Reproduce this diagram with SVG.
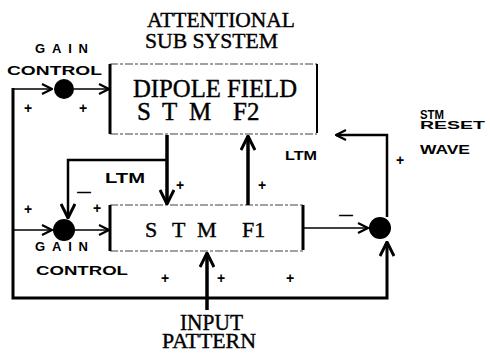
<svg xmlns="http://www.w3.org/2000/svg" width="490" height="353" viewBox="0 0 490 353">
<style>
.big{font-family:"Liberation Serif","Times New Roman",serif;fill:#000;stroke:#000;stroke-width:0.4}
.sm{font-family:"Liberation Sans",Arial,sans-serif;font-weight:bold;fill:#000}
.pl{font-family:"Liberation Sans",Arial,sans-serif;font-weight:bold;font-size:14px;text-anchor:middle;fill:#000}
.dash{stroke:#444;stroke-width:1.2;stroke-dasharray:8 2 3 2;fill:none}
.edge{stroke:#000;fill:none}
.c{fill:none;stroke:#000;stroke-linejoin:miter}
.node{fill:#000}
</style>
<defs>
<marker id="a" viewBox="0 0 12 12" refX="11" refY="6" markerWidth="12" markerHeight="12" markerUnits="userSpaceOnUse" orient="auto">
<path d="M1,1 L11,6 L1,11" fill="none" stroke="#000" stroke-width="2.2"/>
</marker>
<marker id="b" viewBox="0 0 16 16" refX="15" refY="8" markerWidth="16" markerHeight="16" markerUnits="userSpaceOnUse" orient="auto">
<path d="M1,1 L15,8 L1,15" fill="none" stroke="#000" stroke-width="3"/>
</marker>
</defs>
<rect width="490" height="353" fill="#fff"/>

<g id="title">
<text class="big" x="147" y="27" font-size="22" textLength="148" lengthAdjust="spacingAndGlyphs">ATTENTIONAL</text>
<text class="big" x="145" y="48" font-size="22" textLength="133" lengthAdjust="spacingAndGlyphs">SUB SYSTEM</text>
</g>

<g id="f2">
<line class="dash" x1="110" y1="64" x2="317" y2="64"/>
<line class="dash" x1="110" y1="134" x2="317" y2="134"/>
<line class="edge" x1="110" y1="64" x2="110" y2="134" stroke-width="3"/>
<line class="edge" x1="317" y1="64" x2="317" y2="133" stroke-width="2"/>
<text class="big" x="133" y="97" font-size="25" textLength="164" lengthAdjust="spacingAndGlyphs">DIPOLE FIELD</text>
<text class="big" y="120" font-size="25"><tspan x="137">S</tspan><tspan x="162">T</tspan><tspan x="189">M</tspan><tspan x="233">F2</tspan></text>
</g>

<g id="f1">
<line class="dash" x1="110" y1="205" x2="303" y2="205"/>
<line class="dash" x1="110" y1="251" x2="303" y2="251"/>
<line class="edge" x1="110" y1="205" x2="110" y2="251" stroke-width="3"/>
<line class="edge" x1="303" y1="205" x2="303" y2="250" stroke-width="3"/>
<text class="big" y="237" font-size="22"><tspan x="145">S</tspan><tspan x="172">T</tspan><tspan x="197">M</tspan><tspan x="242">F1</tspan></text>
</g>

<g id="gain-top">
<circle class="node" cx="64" cy="89" r="10"/>
<text class="sm" x="35" y="53" font-size="13" textLength="53" lengthAdjust="spacing">GAIN</text>
<text class="sm" x="7" y="75" font-size="13" textLength="95" lengthAdjust="spacingAndGlyphs">CONTROL</text>
</g>

<g id="gain-bottom">
<circle class="node" cx="64" cy="230" r="11"/>
<text class="sm" x="35" y="251" font-size="13" textLength="53" lengthAdjust="spacing">GAIN</text>
<text class="sm" x="36" y="275" font-size="13" textLength="92" lengthAdjust="spacingAndGlyphs">CONTROL</text>
</g>

<g id="reset">
<circle class="node" cx="380" cy="228" r="11"/>
<text class="sm" x="420" y="119" font-size="13" textLength="24" lengthAdjust="spacingAndGlyphs">STM</text>
<text class="sm" x="420" y="129" font-size="11" textLength="65" lengthAdjust="spacingAndGlyphs">RESET</text>
<text class="sm" x="420" y="154" font-size="13" textLength="50" lengthAdjust="spacingAndGlyphs">WAVE</text>
</g>

<g id="input">
<text class="big" x="180" y="330" font-size="23" textLength="63" lengthAdjust="spacingAndGlyphs">INPUT</text>
<text class="big" x="162" y="348" font-size="22" textLength="94" lengthAdjust="spacingAndGlyphs">PATTERN</text>
</g>

<g id="connectors">
<line class="c" x1="13" y1="89" x2="52" y2="89" stroke-width="1.5" marker-end="url(#a)"/>
<polyline class="c" points="13,88 13,298 387,298 387,242" stroke-width="3" marker-end="url(#b)"/>
<line class="c" x1="13" y1="230" x2="52" y2="230" stroke-width="1.5" marker-end="url(#a)"/>
<line class="c" x1="74" y1="89" x2="109" y2="89" stroke-width="1.5" marker-end="url(#a)"/>
<line class="c" x1="75" y1="230" x2="109" y2="230" stroke-width="1.5" marker-end="url(#a)"/>
<line class="c" x1="167" y1="135" x2="167" y2="204" stroke-width="3.5" marker-end="url(#b)"/>
<polyline class="c" points="167,160 68,160 68,218" stroke-width="2.5" marker-end="url(#b)"/>
<line class="c" x1="248" y1="205" x2="248" y2="136" stroke-width="3.5" marker-end="url(#b)"/>
<line class="c" x1="304" y1="228" x2="368" y2="228" stroke-width="1.5" marker-end="url(#a)"/>
<polyline class="c" points="387,217 387,135 336,135" stroke-width="2.5" marker-end="url(#a)"/>
<line class="c" x1="207" y1="310" x2="207" y2="253" stroke-width="3.5" marker-end="url(#b)"/>
</g>

<g id="signs">
<text class="pl" x="28" y="113">+</text>
<text class="pl" x="83" y="113">+</text>
<text class="pl" x="28" y="214">+</text>
<text class="pl" x="97" y="213">+</text>
<text class="pl" x="180" y="190">+</text>
<text class="pl" x="262" y="190">+</text>
<text class="pl" x="400" y="165">+</text>
<text class="pl" x="165" y="283">+</text>
<text class="pl" x="221" y="283">+</text>
<text class="pl" x="290" y="283">+</text>
<text class="pl" x="84" y="197" font-size="13">—</text>
<text class="pl" x="346" y="220" font-size="12">—</text>
</g>

<g id="ltm">
<text class="sm" x="105" y="183" font-size="14" textLength="40" lengthAdjust="spacingAndGlyphs">LTM</text>
<text class="sm" x="285" y="160" font-size="13" textLength="32" lengthAdjust="spacingAndGlyphs">LTM</text>
</g>
</svg>
